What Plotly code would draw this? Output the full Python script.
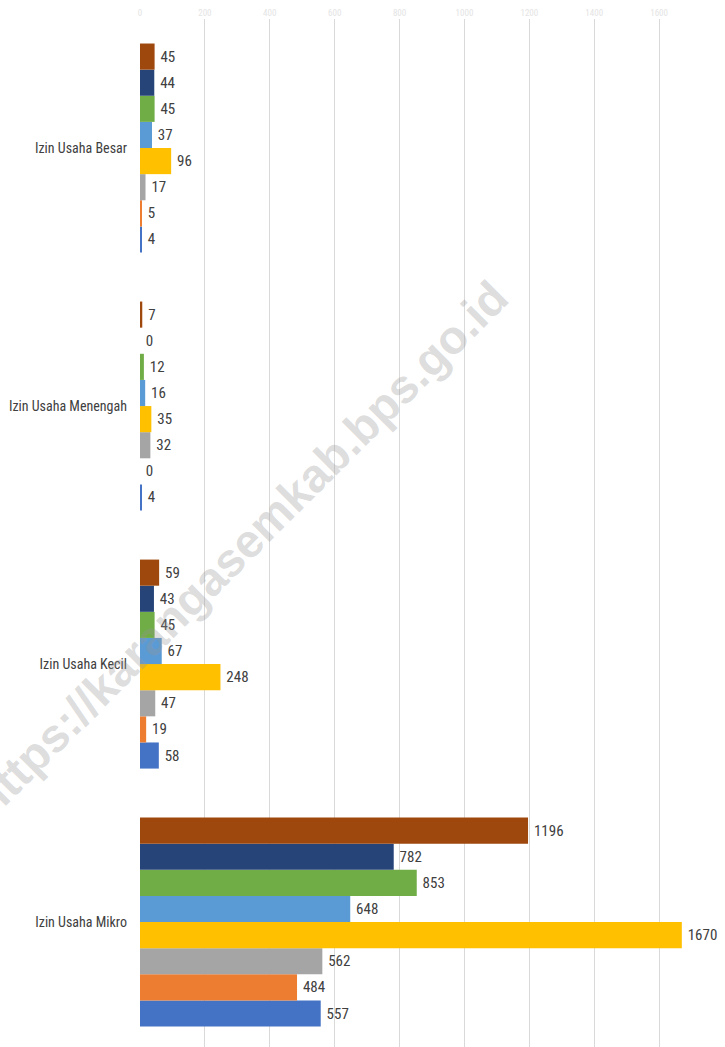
import plotly.graph_objects as go

categories = ["Izin Usaha Mikro", "Izin Usaha Kecil", "Izin Usaha Menengah", "Izin Usaha Besar"]

# series listed bottom (first) to top (last) within each group
s1 = [557, 58, 4, 4]
s2 = [484, 19, 0, 5]
s3 = [562, 47, 32, 17]
s4 = [1670, 248, 35, 96]
s5 = [648, 67, 16, 37]
s6 = [853, 45, 12, 45]
s7 = [782, 43, 0, 44]
s8 = [1196, 59, 7, 45]

series = [s1, s2, s3, s4, s5, s6, s7, s8]
colors = ["#4472C4", "#ED7D31", "#A5A5A5", "#FFC000", "#5B9BD5", "#70AD47", "#264478", "#9E480E"]

tick_vals = [0, 200, 400, 600, 800, 1000, 1200, 1400, 1600, 1800]

font_fam = "Liberation Sans Narrow, Roboto Condensed, Arial Narrow, Roboto, sans-serif"

fig = go.Figure()
for vals, col in zip(series, colors):
    fig.add_trace(go.Bar(
        x=vals, y=categories, orientation="h",
        marker=dict(color=col, line=dict(width=0)),
        text=["\u2009" + str(v) for v in vals], textposition="outside",
        textfont=dict(family=font_fam, size=15, color="#404040"),
        cliponaxis=False, showlegend=False,
    ))

fig.update_layout(
    width=725, height=1047,
    margin=dict(l=140, r=1, t=19, b=0, autoexpand=False),
    barmode="group", bargap=0.19, bargroupgap=0,
    plot_bgcolor="white", paper_bgcolor="white",
    xaxis=dict(
        side="top", range=[0, 1800], tickvals=tick_vals, automargin=False,
        showgrid=True, gridcolor="#d9d9d9", gridwidth=1,
        zeroline=False, showline=False,
        tickfont=dict(family=font_fam, size=9, color="#e4e4e4"),
    ),
    yaxis=dict(
        categoryorder="array", categoryarray=categories, automargin=False,
        range=[-0.484, 3.5], showgrid=False, zeroline=False, showline=False,
        ticks="", ticklabelstandoff=12,
        tickfont=dict(family=font_fam, size=14, color="#404040"),
    ),
    annotations=[dict(
        text="<b>https://karangasemkab.bps.go.id</b>", xref="paper", yref="paper",
        x=0.171, y=0.485, xanchor="center", yanchor="middle", showarrow=False,
        textangle=-45,
        font=dict(family="Liberation Sans, Arial, sans-serif", size=47, color="rgba(150,150,150,0.33)"),
    )],
)

fig.write_html("out.html", config={"displayModeBar": False},
               post_script="document.body.style.margin='0';document.body.style.overflow='hidden';")
